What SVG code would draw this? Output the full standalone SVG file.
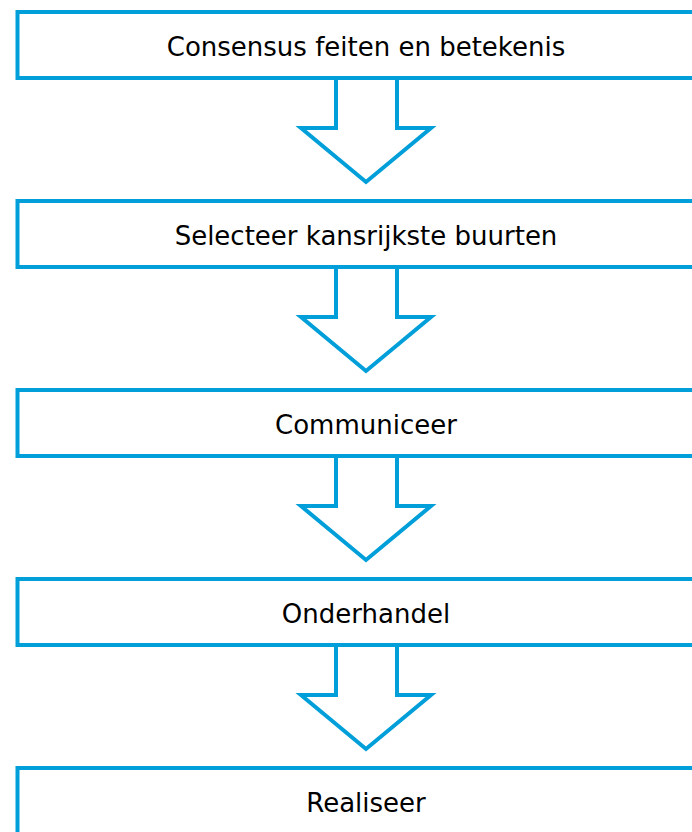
<svg xmlns="http://www.w3.org/2000/svg" width="692" height="832" viewBox="0 0 692 832">
<style>
.box{fill:#fff;stroke:#009fda;stroke-width:4}
.arr{fill:#fff;stroke:#009fda;stroke-width:4;stroke-linejoin:miter}
text{font-family:"DejaVu Sans","Liberation Sans",sans-serif;font-size:26px;fill:#000;text-anchor:middle}
</style>
<rect width="692" height="832" fill="#fff"/>
<g id="connectors">
<path class="arr" d="M336,80 L336,128 L301,128 L366,182 L431,128 L397,128 L397,80"/>
<path class="arr" d="M336,269 L336,317 L301,317 L366,371 L431,317 L397,317 L397,269"/>
<path class="arr" d="M336,458 L336,506 L301,506 L366,560 L431,506 L397,506 L397,458"/>
<path class="arr" d="M336,647 L336,695 L301,695 L366,749 L431,695 L397,695 L397,647"/>
</g>
<g id="n1"><rect class="box" x="17.5" y="12" width="700" height="66"/><text x="366" y="56">Consensus feiten en betekenis</text></g>
<g id="n2"><rect class="box" x="17.5" y="201" width="700" height="66"/><text x="366" y="245">Selecteer kansrijkste buurten</text></g>
<g id="n3"><rect class="box" x="17.5" y="390" width="700" height="66"/><text x="366" y="434">Communiceer</text></g>
<g id="n4"><rect class="box" x="17.5" y="579" width="700" height="66"/><text x="366" y="623">Onderhandel</text></g>
<g id="n5"><rect class="box" x="17.5" y="768" width="700" height="66"/><text x="366" y="812">Realiseer</text></g>
</svg>
